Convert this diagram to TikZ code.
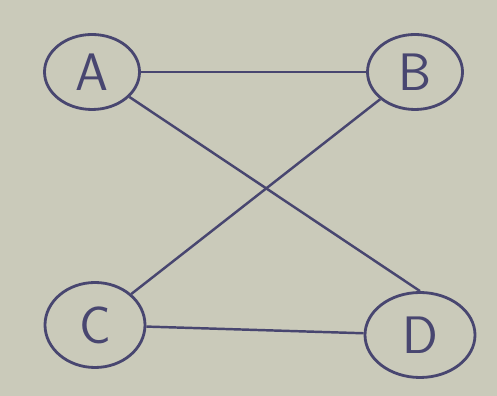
\documentclass[tikz,border=0pt]{standalone}
\usepackage{tikz}
\usetikzlibrary{shapes.geometric}
\definecolor{paper}{RGB}{202,202,186}
\definecolor{pen}{RGB}{72,70,112}

\begin{document}
\begin{tikzpicture}[
        font=\sffamily,
        line width=1.4pt,
        vertex/.style={
            ellipse,
            draw=pen,
            text=pen,
            line width=1.6pt,
            minimum width=1.9cm,
            minimum height=1.5cm,
            inner sep=1pt,
            font=\sffamily\fontsize{30}{30}\selectfont
        },
        edge/.style={draw=pen}
    ]

        \fill[paper] (0,0) rectangle (9.94,7.92);

        \node[vertex] (A) at (1.84,6.48) {A};
        \node[vertex] (B) at (8.30,6.48) {B};
        \node[vertex, minimum width=2.0cm, minimum height=1.7cm] (C) at (1.90,1.42) {C};
        \node[vertex, minimum width=2.2cm, minimum height=1.7cm] (D) at (8.40,1.22) {D};

        \draw[edge] (A) -- (B);
        \draw[edge] (A) -- (D.north);
        \draw[edge] (B) -- (C.north east);
        \draw[edge] (C) -- (D);

    \end{tikzpicture}
\end{document}
